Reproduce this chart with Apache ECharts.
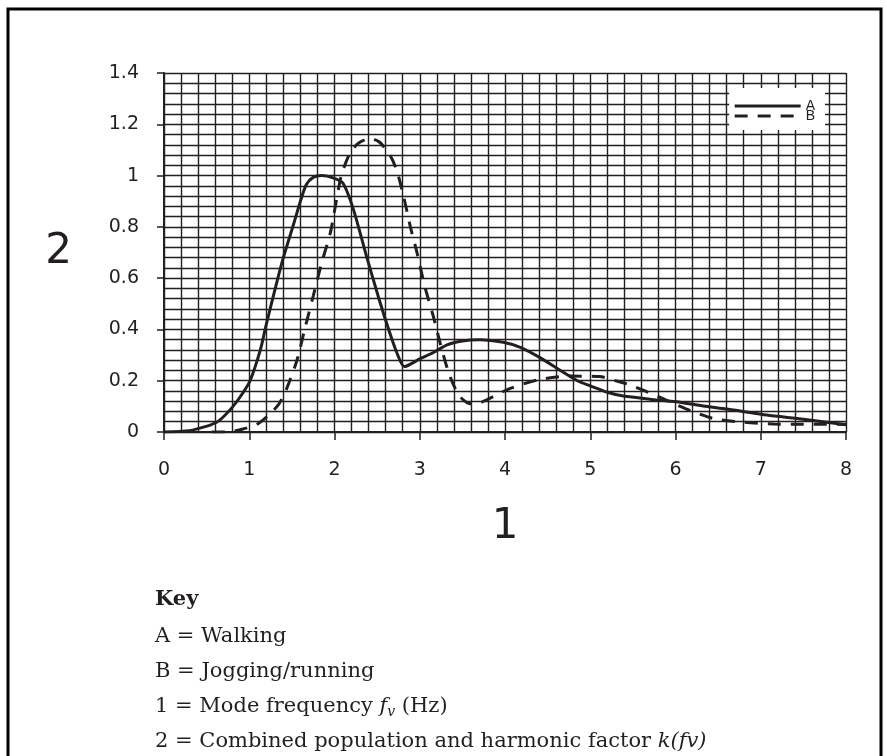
<!DOCTYPE html>
<html>
<head>
<meta charset="utf-8">
<script src="https://cdn.jsdelivr.net/npm/echarts@6/dist/echarts.min.js"></script>
<style>
html,body{margin:0;padding:0;background:#fff;}
#chart{width:887px;height:756px;}
</style>
</head>
<body>
<div id="chart"></div>
<script>
// ---- data ----
var walkingX = [0, 0.3, 0.42, 0.55, 0.65, 0.81, 0.92, 1.01, 1.13, 1.2, 1.32, 1.4, 1.52, 1.6, 1.67, 1.75, 1.85, 1.99, 2.1, 2.22, 2.38, 2.53, 2.65, 2.73, 2.82, 3.0, 3.16, 3.32, 3.5, 3.7, 3.98, 4.18, 4.41, 4.65, 4.85, 5.0, 5.2, 5.39, 5.7, 6.01, 6.35, 6.68, 7.07, 7.5, 8.0];
var walkingY = [0, 0.005, 0.015, 0.028, 0.045, 0.1, 0.15, 0.2, 0.32, 0.42, 0.58, 0.68, 0.81, 0.9, 0.965, 0.993, 1.0, 0.99, 0.97, 0.87, 0.68, 0.51, 0.385, 0.31, 0.255, 0.285, 0.31, 0.34, 0.355, 0.36, 0.35, 0.33, 0.29, 0.24, 0.2, 0.18, 0.155, 0.14, 0.128, 0.118, 0.1, 0.086, 0.066, 0.05, 0.028];
var joggingX = [0.56, 0.75, 0.93, 1.09, 1.24, 1.35, 1.44, 1.56, 1.65, 1.75, 1.85, 1.95, 2.01, 2.08, 2.18, 2.28, 2.42, 2.53, 2.65, 2.73, 2.81, 2.89, 2.96, 3.06, 3.16, 3.24, 3.34, 3.43, 3.51, 3.6, 3.69, 3.82, 4.06, 4.41, 4.76, 5.11, 5.3, 5.47, 5.8, 6.11, 6.44, 6.8, 7.15, 7.5, 8.0];
var joggingY = [0, 0, 0.012, 0.03, 0.07, 0.11, 0.17, 0.28, 0.4, 0.53, 0.66, 0.775, 0.88, 1.0, 1.087, 1.126, 1.145, 1.13, 1.08, 1.02, 0.92, 0.8, 0.71, 0.567, 0.45, 0.346, 0.23, 0.16, 0.125, 0.11, 0.112, 0.131, 0.17, 0.205, 0.218, 0.216, 0.2, 0.183, 0.138, 0.092, 0.053, 0.038, 0.031, 0.03, 0.03];
var seriesNames = ['A', 'B'];
var xAxisName = '1';
var yAxisName = '2';
var keyLines = [
  'A = Walking',
  'B = Jogging/running',
  '1 = Mode frequency {i|f}{s|v} (Hz)',
  '2 = Combined population and harmonic factor {i|k(fv)}'
];

function pairs(xs, ys) { return xs.map(function (x, i) { return [x, ys[i]]; }); }

var ink = '#231f20';
var gridLine = { color: ink, width: 1.4 };
var tickFont = "Liberation Sans Narrow, DejaVu Sans, sans-serif";
var keyFont = "DejaVu Serif";
var keySize = 21;

var keyTitles = [{
  text: 'Key', left: 155, top: 588, padding: 0,
  textStyle: { fontFamily: keyFont, fontSize: keySize, fontWeight: 'bold', color: ink, lineHeight: 24 }
}];
keyLines.forEach(function (t, i) {
  keyTitles.push({
    text: t, left: 155, top: 625 + i * 35, padding: 0,
    textStyle: {
      fontFamily: keyFont, fontSize: keySize, fontWeight: 'normal', color: ink, lineHeight: 24,
      rich: {
        i: { fontFamily: keyFont, fontSize: keySize, fontStyle: 'italic', color: ink, lineHeight: 24 },
        s: { fontFamily: keyFont, fontSize: 14, fontStyle: 'italic', color: ink, lineHeight: 24, padding: [11, 0, 0, 0] }
      }
    }
  });
});

var legendCommon = {
  orient: 'vertical', right: 62, itemWidth: 66, itemHeight: 9,
  itemStyle: { opacity: 0 },
  lineStyle: { width: 3 },
  textStyle: { fontFamily: "Liberation Sans, sans-serif", fontSize: 14, color: ink, lineHeight: 9 }
};

var chart = echarts.init(document.getElementById('chart'), null, { renderer: 'canvas' });
chart.setOption({
  backgroundColor: '#fff',
  animation: false,
  title: keyTitles,
  graphic: [{
    type: 'rect', z: 100,
    shape: { x: 8, y: 9, width: 873, height: 780 },
    style: { fill: null, stroke: '#000', lineWidth: 3 }
  }],
  legend: [
    Object.assign({}, legendCommon, { data: [seriesNames[0]], top: 88, padding: [11, 10, 17, 4], backgroundColor: '#fff' }),
    Object.assign({}, legendCommon, { data: [seriesNames[1]], top: 105, padding: [4, 10, 4, 4] })
  ],
  grid: { left: 164, top: 73, width: 682, height: 359, containLabel: false },
  xAxis: {
    type: 'value', min: 0, max: 8, interval: 1,
    name: xAxisName, nameLocation: 'middle', nameGap: 74,
    nameTextStyle: { fontFamily: tickFont, fontSize: 42, color: ink },
    axisLine: { show: true, lineStyle: { color: ink, width: 2 } },
    axisTick: { show: true, length: 8, lineStyle: { color: ink, width: 1.5 } },
    axisLabel: { margin: 29, fontFamily: tickFont, fontSize: 19, color: ink },
    splitLine: { show: true, lineStyle: gridLine },
    minorTick: { show: false, splitNumber: 5 },
    minorSplitLine: { show: true, lineStyle: gridLine }
  },
  yAxis: {
    type: 'value', min: 0, max: 1.4, interval: 0.2,
    name: yAxisName, nameLocation: 'middle', nameGap: 92, nameRotate: 0,
    nameTextStyle: { fontFamily: tickFont, fontSize: 42, color: ink },
    axisLine: { show: true, lineStyle: { color: ink, width: 2 } },
    axisTick: { show: true, length: 7, lineStyle: { color: ink, width: 1.5 } },
    axisLabel: { margin: 25, fontFamily: tickFont, fontSize: 19, color: ink },
    splitLine: { show: true, lineStyle: gridLine },
    minorTick: { show: false, splitNumber: 5 },
    minorSplitLine: { show: true, lineStyle: gridLine }
  },
  series: [{
    name: seriesNames[0], type: 'line', data: pairs(walkingX, walkingY),
    symbol: 'none', smooth: 0.25, z: 5,
    itemStyle: { color: ink },
    lineStyle: { color: ink, width: 3 }
  }, {
    name: seriesNames[1], type: 'line', data: pairs(joggingX, joggingY),
    symbol: 'none', smooth: 0.25, z: 5,
    itemStyle: { color: ink },
    lineStyle: { color: ink, width: 3, type: [13, 10] }
  }]
});
</script>
</body>
</html>
